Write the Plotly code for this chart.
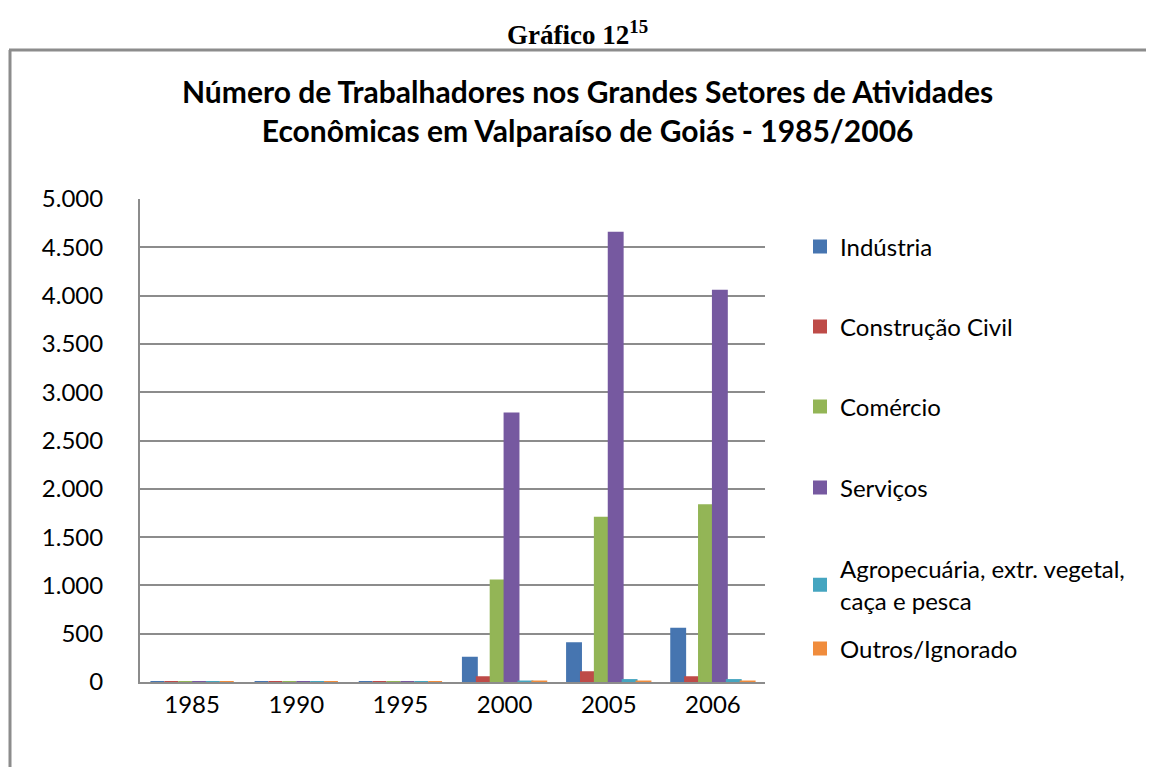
import plotly.graph_objects as go

years = ["1985", "1990", "1995", "2000", "2005", "2006"]
industria = [0, 0, 0, 250, 400, 550]
construcao = [0, 0, 0, 50, 100, 50]
comercio = [0, 0, 0, 1050, 1700, 1830]
servicos = [0, 0, 0, 2780, 4650, 4050]
agropecuaria = [0, 0, 0, 5, 20, 20]
outros = [0, 0, 0, 5, 5, 5]

series_names = ["Indústria", "Construção Civil", "Comércio", "Serviços",
                "Agropecuária, extr. vegetal,<br>caça e pesca", "Outros/Ignorado"]
series_values = [industria, construcao, comercio, servicos, agropecuaria, outros]
colors = ["#4675B0", "#BE4B48", "#93B556", "#7659A0", "#45A5C0", "#F08C3C"]
y_ticks = [0, 500, 1000, 1500, 2000, 2500, 3000, 3500, 4000, 4500, 5000]

W, H = 1154, 767
OFF = 8  # page body margin
L, R, T, B = 140, 765, 199, 682  # plot area in page pixels


def px(x):
    return (x - L) / (R - L)


def py(y):
    return (B - y) / (B - T)


FONT = "Lato"
fig = go.Figure()
legend_centers = [247, 327, 407, 488, 585, 649]
legend_keys = ["legend", "legend2", "legend3", "legend4", "legend5", "legend6"]
for name, vals, col, key in zip(series_names, series_values, colors, legend_keys):
    fig.add_trace(go.Bar(
        x=years, y=vals, name=name,
        marker=dict(color=col, line=dict(color=col, width=2)),
        legend=key,
    ))

layout_legends = {}
for key, c in zip(legend_keys, legend_centers):
    layout_legends[key] = dict(
        x=px(800), y=py(c), xanchor="left", yanchor="middle",
        font=dict(family=FONT, size=24, color="#000000"),
        bgcolor="rgba(0,0,0,0)",
    )

fig.update_layout(
    width=W, height=H,
    margin=dict(l=L - OFF, r=W - (R - OFF), t=T - OFF, b=H - (B - OFF), autoexpand=False),
    paper_bgcolor="white", plot_bgcolor="white",
    barmode="group", bargap=0.2, bargroupgap=0,
    separators=",.",
    showlegend=True,
    **layout_legends,
    xaxis=dict(
        type="category",
        showline=True, linecolor="#8c8c8c", linewidth=2,
        showgrid=False, ticks="",
        tickfont=dict(family=FONT, size=24, color="#000000"),
    ),
    yaxis=dict(
        range=[0, 5000], tickvals=y_ticks, tickformat=",d",
        showline=True, linecolor="#8c8c8c", linewidth=2,
        showgrid=True, gridcolor="#8c8c8c", gridwidth=2,
        zeroline=False, ticks="",
        ticklabelstandoff=30,
        tickfont=dict(family=FONT, size=24, color="#000000"),
    ),
    annotations=[
        dict(text="<b>Gráfico 12<sup>15</sup></b>", x=px(577), y=py(33),
             xref="paper", yref="paper", showarrow=False,
             xanchor="center", yanchor="middle",
             font=dict(family="Liberation Serif", size=27, color="#000000")),
        dict(text="<b>Número de Trabalhadores nos Grandes Setores de Atividades<br>"
                  "Econômicas em Valparaíso de Goiás - 1985/2006</b>",
             x=px(587), y=py(111), xref="paper", yref="paper", showarrow=False,
             xanchor="center", yanchor="middle",
             font=dict(family=FONT, size=30, color="#000000")),
    ],
    shapes=[
        dict(type="line", xref="paper", yref="paper",
             x0=px(10), x1=px(10), y0=py(50), y1=py(790),
             line=dict(color="#8c8c8c", width=3)),
        dict(type="line", xref="paper", yref="paper",
             x0=px(9), x1=px(1170), y0=py(50), y1=py(50),
             line=dict(color="#8c8c8c", width=3)),
    ],
)

fig.write_html("out.html")
